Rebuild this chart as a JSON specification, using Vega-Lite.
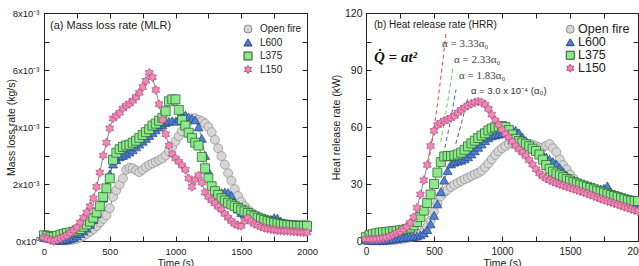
{
  "$schema": "https://vega.github.io/schema/vega-lite/v6.json",
  "background": "white",
  "padding": {"left": 5, "top": 7, "right": 0, "bottom": 0},
  "config": {
    "view": {"stroke": "#222", "strokeWidth": 1},
    "axis": {
      "grid": false, "domain": false,
      "labelFont": "Liberation Sans", "labelFontSize": 9.5, "labelColor": "#222",
      "titleFont": "Liberation Sans", "titleFontSize": 10.5, "titleFontWeight": "normal", "titleColor": "#222",
      "tickColor": "#222", "tickWidth": 1
    },
    "text": {"font": "Liberation Sans"}
  },
  "datasets": {
    "mlr": [
      {"t":0,"Open fire":0.00015,"L600":0.00012,"L375":0.0002,"L150":0.00012},
      {"t":25,"Open fire":0.00012,"L600":0.0001,"L375":0.00018,"L150":0.00008},
      {"t":50,"Open fire":0.0001,"L600":0.00008,"L375":0.00015,"L150":0.00003},
      {"t":75,"Open fire":0.00008,"L600":0.00005,"L375":0.00015,"L150":0},
      {"t":100,"Open fire":0.00005,"L600":0.00002,"L375":0.00018,"L150":0.00005},
      {"t":125,"Open fire":0.00003,"L600":0.00002,"L375":0.00022,"L150":0.0001},
      {"t":150,"Open fire":0.00002,"L600":0.00003,"L375":0.00025,"L150":0.00015},
      {"t":175,"Open fire":0.00002,"L600":0.00005,"L375":0.00028,"L150":0.0002},
      {"t":200,"Open fire":0.00003,"L600":0.00008,"L375":0.0003,"L150":0.00028},
      {"t":225,"Open fire":0.00005,"L600":0.00012,"L375":0.00033,"L150":0.00038},
      {"t":250,"Open fire":0.00008,"L600":0.00018,"L375":0.00037,"L150":0.00048},
      {"t":275,"Open fire":0.00012,"L600":0.00026,"L375":0.00042,"L150":0.00065},
      {"t":300,"Open fire":0.00018,"L600":0.00035,"L375":0.0005,"L150":0.00082},
      {"t":325,"Open fire":0.00025,"L600":0.00045,"L375":0.00058,"L150":0.001},
      {"t":350,"Open fire":0.00033,"L600":0.00058,"L375":0.00068,"L150":0.00122},
      {"t":375,"Open fire":0.00042,"L600":0.00075,"L375":0.00082,"L150":0.0015},
      {"t":400,"Open fire":0.00052,"L600":0.00095,"L375":0.001,"L150":0.0019},
      {"t":425,"Open fire":0.00065,"L600":0.0012,"L375":0.00122,"L150":0.0024},
      {"t":450,"Open fire":0.00078,"L600":0.0015,"L375":0.00155,"L150":0.003},
      {"t":475,"Open fire":0.0009,"L600":0.0019,"L375":0.00185,"L150":0.00345},
      {"t":500,"Open fire":0.00115,"L600":0.00235,"L375":0.0022,"L150":0.00395},
      {"t":525,"Open fire":0.00155,"L600":0.0027,"L375":0.00285,"L150":0.0043},
      {"t":550,"Open fire":0.00178,"L600":0.00285,"L375":0.0031,"L150":0.0044},
      {"t":575,"Open fire":0.00198,"L600":0.00295,"L375":0.00322,"L150":0.0045},
      {"t":600,"Open fire":0.0022,"L600":0.003,"L375":0.0033,"L150":0.00465},
      {"t":625,"Open fire":0.0025,"L600":0.00305,"L375":0.00335,"L150":0.00475},
      {"t":650,"Open fire":0.00257,"L600":0.00312,"L375":0.00338,"L150":0.00482},
      {"t":675,"Open fire":0.00255,"L600":0.0032,"L375":0.00345,"L150":0.00492},
      {"t":700,"Open fire":0.00248,"L600":0.0033,"L375":0.00352,"L150":0.00505},
      {"t":725,"Open fire":0.00242,"L600":0.0034,"L375":0.00362,"L150":0.0052},
      {"t":750,"Open fire":0.0025,"L600":0.0035,"L375":0.00372,"L150":0.0054},
      {"t":775,"Open fire":0.0026,"L600":0.0036,"L375":0.00382,"L150":0.00562},
      {"t":800,"Open fire":0.00267,"L600":0.0037,"L375":0.00392,"L150":0.0059},
      {"t":825,"Open fire":0.00272,"L600":0.0038,"L375":0.00405,"L150":0.00575},
      {"t":850,"Open fire":0.00278,"L600":0.0039,"L375":0.00412,"L150":0.0053},
      {"t":875,"Open fire":0.00284,"L600":0.004,"L375":0.00422,"L150":0.0048},
      {"t":900,"Open fire":0.0029,"L600":0.00408,"L375":0.00432,"L150":0.00425},
      {"t":925,"Open fire":0.003,"L600":0.00415,"L375":0.00455,"L150":0.00375},
      {"t":950,"Open fire":0.00315,"L600":0.0042,"L375":0.0049,"L150":0.00335},
      {"t":975,"Open fire":0.0033,"L600":0.00422,"L375":0.00497,"L150":0.00305},
      {"t":1000,"Open fire":0.0035,"L600":0.0042,"L375":0.00497,"L150":0.0029},
      {"t":1025,"Open fire":0.00368,"L600":0.0043,"L375":0.0046,"L150":0.00278},
      {"t":1050,"Open fire":0.00385,"L600":0.0044,"L375":0.00425,"L150":0.00265},
      {"t":1075,"Open fire":0.00405,"L600":0.00442,"L375":0.00405,"L150":0.0025},
      {"t":1100,"Open fire":0.0042,"L600":0.00435,"L375":0.0038,"L150":0.0022},
      {"t":1125,"Open fire":0.0043,"L600":0.0043,"L375":0.00362,"L150":0.0019},
      {"t":1150,"Open fire":0.0043,"L600":0.00425,"L375":0.00345,"L150":0.00215},
      {"t":1175,"Open fire":0.00425,"L600":0.004,"L375":0.00335,"L150":0.0023},
      {"t":1200,"Open fire":0.0042,"L600":0.0036,"L375":0.00295,"L150":0.00205},
      {"t":1225,"Open fire":0.00412,"L600":0.003,"L375":0.00255,"L150":0.0017},
      {"t":1250,"Open fire":0.004,"L600":0.00245,"L375":0.0022,"L150":0.00155},
      {"t":1275,"Open fire":0.00382,"L600":0.00195,"L375":0.00192,"L150":0.00142},
      {"t":1300,"Open fire":0.00355,"L600":0.00172,"L375":0.00175,"L150":0.00132},
      {"t":1325,"Open fire":0.00325,"L600":0.0017,"L375":0.00162,"L150":0.0012},
      {"t":1350,"Open fire":0.00298,"L600":0.0017,"L375":0.0015,"L150":0.0011},
      {"t":1375,"Open fire":0.00268,"L600":0.00172,"L375":0.00142,"L150":0.00095},
      {"t":1400,"Open fire":0.00238,"L600":0.0017,"L375":0.00134,"L150":0.00082},
      {"t":1425,"Open fire":0.00212,"L600":0.0016,"L375":0.00128,"L150":0.0007},
      {"t":1450,"Open fire":0.00182,"L600":0.00135,"L375":0.00122,"L150":0.0006},
      {"t":1475,"Open fire":0.00158,"L600":0.00112,"L375":0.00116,"L150":0.00055},
      {"t":1500,"Open fire":0.00138,"L600":0.001,"L375":0.0011,"L150":0.00053},
      {"t":1525,"Open fire":0.00122,"L600":0.00095,"L375":0.00104,"L150":0.0007},
      {"t":1550,"Open fire":0.0011,"L600":0.0009,"L375":0.00098,"L150":0.0008},
      {"t":1575,"Open fire":0.001,"L600":0.00085,"L375":0.00092,"L150":0.00068},
      {"t":1600,"Open fire":0.00092,"L600":0.0008,"L375":0.00087,"L150":0.0006},
      {"t":1625,"Open fire":0.00086,"L600":0.00077,"L375":0.00082,"L150":0.00055},
      {"t":1650,"Open fire":0.0008,"L600":0.00074,"L375":0.00078,"L150":0.0005},
      {"t":1675,"Open fire":0.00075,"L600":0.00072,"L375":0.00074,"L150":0.00046},
      {"t":1700,"Open fire":0.00071,"L600":0.00072,"L375":0.0007,"L150":0.00043},
      {"t":1725,"Open fire":0.00067,"L600":0.00076,"L375":0.00067,"L150":0.00041},
      {"t":1750,"Open fire":0.00064,"L600":0.00082,"L375":0.00064,"L150":0.00039},
      {"t":1775,"Open fire":0.00062,"L600":0.0008,"L375":0.00062,"L150":0.00037},
      {"t":1800,"Open fire":0.0006,"L600":0.0007,"L375":0.0006,"L150":0.00036},
      {"t":1825,"Open fire":0.00059,"L600":0.00064,"L375":0.00058,"L150":0.00035},
      {"t":1850,"Open fire":0.00058,"L600":0.0006,"L375":0.00056,"L150":0.00035},
      {"t":1875,"Open fire":0.00058,"L600":0.00057,"L375":0.00055,"L150":0.00034},
      {"t":1900,"Open fire":0.00057,"L600":0.00054,"L375":0.00054,"L150":0.00033},
      {"t":1925,"Open fire":0.00057,"L600":0.00052,"L375":0.00053,"L150":0.00032},
      {"t":1950,"Open fire":0.00057,"L600":0.0005,"L375":0.00053,"L150":0.00031},
      {"t":1975,"Open fire":0.00058,"L600":0.00048,"L375":0.00053,"L150":0.0003},
      {"t":2000,"Open fire":0.00058,"L600":0.00046,"L375":0.00053,"L150":0.0003}
    ],
    "hrr": [
      {"t":0,"Open fire":0.5,"L600":0.5,"L375":2.0,"L150":1.0},
      {"t":25,"Open fire":0.5,"L600":0.4,"L375":3.0,"L150":0.9},
      {"t":50,"Open fire":0.5,"L600":0.3,"L375":3.6,"L150":0.9},
      {"t":75,"Open fire":0.4,"L600":0.2,"L375":4.0,"L150":1.0},
      {"t":100,"Open fire":0.3,"L600":0.2,"L375":4.4,"L150":1.2},
      {"t":125,"Open fire":0.3,"L600":0.3,"L375":4.6,"L150":1.5},
      {"t":150,"Open fire":0.3,"L600":0.5,"L375":4.8,"L150":1.8},
      {"t":175,"Open fire":0.4,"L600":0.8,"L375":5.0,"L150":2.4},
      {"t":200,"Open fire":0.5,"L600":1.0,"L375":5.2,"L150":3.3},
      {"t":225,"Open fire":0.7,"L600":1.2,"L375":5.4,"L150":4.2},
      {"t":250,"Open fire":0.9,"L600":1.5,"L375":5.6,"L150":5.0},
      {"t":275,"Open fire":1.2,"L600":1.8,"L375":5.9,"L150":6.2},
      {"t":300,"Open fire":1.5,"L600":2.0,"L375":6.3,"L150":7.6},
      {"t":325,"Open fire":1.9,"L600":2.2,"L375":7.0,"L150":9.5},
      {"t":350,"Open fire":2.4,"L600":2.4,"L375":8.2,"L150":12.5},
      {"t":375,"Open fire":3.0,"L600":2.6,"L375":10.0,"L150":17.5},
      {"t":400,"Open fire":3.8,"L600":3.2,"L375":12.6,"L150":24.5},
      {"t":425,"Open fire":5.0,"L600":4.2,"L375":16.0,"L150":32.0},
      {"t":450,"Open fire":7.5,"L600":6.0,"L375":20.0,"L150":40.0},
      {"t":475,"Open fire":10.8,"L600":9.0,"L375":24.5,"L150":50.0},
      {"t":500,"Open fire":15.5,"L600":13.5,"L375":30.0,"L150":58.0},
      {"t":525,"Open fire":19.8,"L600":19.5,"L375":36.0,"L150":61.0},
      {"t":550,"Open fire":23.5,"L600":26.0,"L375":41.5,"L150":62.2},
      {"t":575,"Open fire":25.5,"L600":32.0,"L375":44.5,"L150":63.2},
      {"t":600,"Open fire":27.0,"L600":37.0,"L375":44.8,"L150":64.0},
      {"t":625,"Open fire":28.5,"L600":40.5,"L375":44.7,"L150":64.8},
      {"t":650,"Open fire":29.6,"L600":41.5,"L375":45.0,"L150":65.8},
      {"t":675,"Open fire":30.6,"L600":42.0,"L375":45.6,"L150":67.5},
      {"t":700,"Open fire":31.6,"L600":42.5,"L375":46.5,"L150":69.0},
      {"t":725,"Open fire":32.5,"L600":43.2,"L375":48.0,"L150":70.3},
      {"t":750,"Open fire":33.3,"L600":44.3,"L375":49.8,"L150":71.3},
      {"t":775,"Open fire":34.2,"L600":45.8,"L375":51.4,"L150":72.3},
      {"t":800,"Open fire":35.1,"L600":47.5,"L375":52.8,"L150":73.0},
      {"t":825,"Open fire":35.9,"L600":49.3,"L375":54.2,"L150":73.4},
      {"t":850,"Open fire":37.0,"L600":51.0,"L375":55.5,"L150":73.0},
      {"t":875,"Open fire":38.8,"L600":52.8,"L375":56.7,"L150":71.8},
      {"t":900,"Open fire":40.8,"L600":54.3,"L375":58.2,"L150":69.5},
      {"t":925,"Open fire":43.0,"L600":55.3,"L375":59.2,"L150":66.5},
      {"t":950,"Open fire":45.3,"L600":55.8,"L375":59.8,"L150":63.5},
      {"t":975,"Open fire":47.3,"L600":56.2,"L375":60.2,"L150":61.2},
      {"t":1000,"Open fire":48.8,"L600":56.6,"L375":60.5,"L150":58.6},
      {"t":1025,"Open fire":50.0,"L600":57.0,"L375":60.0,"L150":56.3},
      {"t":1050,"Open fire":51.2,"L600":57.8,"L375":58.4,"L150":54.4},
      {"t":1075,"Open fire":51.8,"L600":58.6,"L375":56.0,"L150":52.3},
      {"t":1100,"Open fire":51.9,"L600":58.3,"L375":53.8,"L150":50.0},
      {"t":1125,"Open fire":51.8,"L600":57.0,"L375":52.6,"L150":48.2},
      {"t":1150,"Open fire":51.6,"L600":54.8,"L375":51.8,"L150":46.6},
      {"t":1175,"Open fire":51.3,"L600":52.8,"L375":50.9,"L150":44.8},
      {"t":1200,"Open fire":51.0,"L600":51.0,"L375":49.8,"L150":42.6},
      {"t":1225,"Open fire":50.7,"L600":49.5,"L375":48.6,"L150":40.2},
      {"t":1250,"Open fire":50.0,"L600":48.0,"L375":47.4,"L150":37.8},
      {"t":1275,"Open fire":49.3,"L600":46.8,"L375":45.5,"L150":35.6},
      {"t":1300,"Open fire":49.2,"L600":45.5,"L375":42.8,"L150":34.0},
      {"t":1325,"Open fire":50.2,"L600":44.2,"L375":40.0,"L150":32.9},
      {"t":1350,"Open fire":51.0,"L600":43.0,"L375":38.0,"L150":32.0},
      {"t":1375,"Open fire":48.8,"L600":41.8,"L375":36.5,"L150":31.2},
      {"t":1400,"Open fire":46.8,"L600":40.5,"L375":35.5,"L150":30.5},
      {"t":1425,"Open fire":43.0,"L600":38.5,"L375":34.6,"L150":29.8},
      {"t":1450,"Open fire":40.0,"L600":36.5,"L375":33.6,"L150":29.2},
      {"t":1475,"Open fire":37.8,"L600":34.6,"L375":32.6,"L150":28.6},
      {"t":1500,"Open fire":35.0,"L600":33.0,"L375":31.8,"L150":28.0},
      {"t":1525,"Open fire":32.8,"L600":31.8,"L375":31.0,"L150":27.4},
      {"t":1550,"Open fire":30.8,"L600":30.8,"L375":30.3,"L150":26.8},
      {"t":1575,"Open fire":29.3,"L600":30.0,"L375":29.7,"L150":26.2},
      {"t":1600,"Open fire":28.0,"L600":29.3,"L375":29.1,"L150":25.6},
      {"t":1625,"Open fire":27.0,"L600":28.8,"L375":28.5,"L150":25.0},
      {"t":1650,"Open fire":26.0,"L600":28.4,"L375":27.9,"L150":24.3},
      {"t":1675,"Open fire":25.2,"L600":28.0,"L375":27.2,"L150":23.6},
      {"t":1700,"Open fire":24.4,"L600":27.6,"L375":26.5,"L150":22.9},
      {"t":1725,"Open fire":23.7,"L600":27.4,"L375":26.0,"L150":22.2},
      {"t":1750,"Open fire":23.0,"L600":27.8,"L375":25.4,"L150":21.6},
      {"t":1775,"Open fire":22.3,"L600":29.0,"L375":24.8,"L150":21.0},
      {"t":1800,"Open fire":21.7,"L600":25.8,"L375":24.2,"L150":20.4},
      {"t":1825,"Open fire":21.0,"L600":24.6,"L375":23.7,"L150":19.8},
      {"t":1850,"Open fire":20.4,"L600":23.6,"L375":23.2,"L150":19.2},
      {"t":1875,"Open fire":19.8,"L600":22.8,"L375":22.6,"L150":18.6},
      {"t":1900,"Open fire":19.3,"L600":21.8,"L375":22.0,"L150":18.0},
      {"t":1925,"Open fire":18.8,"L600":20.8,"L375":21.5,"L150":17.4},
      {"t":1950,"Open fire":18.3,"L600":19.9,"L375":21.2,"L150":16.8},
      {"t":1975,"Open fire":17.8,"L600":19.0,"L375":21.0,"L150":16.2},
      {"t":2000,"Open fire":17.4,"L600":18.5,"L375":21.0,"L150":15.7}
    ],
    "fits": [
      {"curve":"a333","t":460,"q":41.2},{"curve":"a333","t":500,"q":59.0},{"curve":"a333","t":530,"q":74.5},{"curve":"a333","t":560,"q":91.8},{"curve":"a333","t":588,"q":109.6},
      {"curve":"a233","t":550,"q":52.1},{"curve":"a233","t":580,"q":64.2},{"curve":"a233","t":610,"q":77.5},{"curve":"a233","t":637,"q":90.6},
      {"curve":"a183","t":580,"q":49.1},{"curve":"a183","t":610,"q":59.4},{"curve":"a183","t":640,"q":70.8},{"curve":"a183","t":662,"q":79.7},
      {"curve":"a0","t":660,"q":51.2},{"curve":"a0","t":690,"q":58.9},{"curve":"a0","t":720,"q":67.1},{"curve":"a0","t":750,"q":75.9}
    ],
    "notesA": [
      {"t":46,"v":0.00754,"label":"(a) Mass loss rate (MLR)"}
    ],
    "notesB": [
      {"t":59,"q":113.7,"label":"(b) Heat release rate (HRR)"}
    ],
    "formula": [
      {"t":59,"q":97,"label":"Q\u0307 = at\u00b2"}
    ],
    "alphas": [
      {"t":559,"q":103.7,"label":"\u03b1 = 3.33\u03b1\u2080"},
      {"t":647,"q":95.3,"label":"\u03b1 = 2.33\u03b1\u2080"},
      {"t":684,"q":86.8,"label":"\u03b1 = 1.83\u03b1\u2080"}
    ],
    "alpha0": [
      {"t":772,"q":79,"label":"\u03b1 = 3.0 x 10\u207b\u2074 (\u03b1\u2080)"}
    ]
  },
  "hconcat": [
    {
      "width": 263,
      "height": 228,
      "layer": [
        {
          "data": {"name": "mlr"},
          "transform": [{"fold": ["Open fire", "L600", "L375", "L150"], "as": ["series", "v"]}],
          "mark": {"type": "line", "strokeWidth": 0.7},
          "encoding": {
            "x": {"field": "t", "type": "quantitative", "scale": {"domain": [0, 2000], "nice": false},
              "axis": {"values": [0, 500, 1000, 1500, 2000], "format": "d", "title": "Time (s)", "ticks": false, "tickSize": 0, "labelPadding": 5, "labelFlush": false, "titleY": 25, "titleBaseline": "alphabetic", "titleFontSize": 10}},
            "y": {"field": "v", "type": "quantitative", "scale": {"domain": [0, 0.008], "nice": false},
              "axis": {"values": [0, 0.002, 0.004, 0.006, 0.008], "labelExpr": "datum.value === 0 ? '0x10\u2070' : round(datum.value * 1000) + 'x10\u207b\u00b3'", "title": "Mass loss rate (kg/s)", "ticks": false, "tickSize": 0, "labelPadding": 5, "titleX": -33, "titleBaseline": "middle"}},
            "detail": {"field": "series", "type": "nominal"},
            "stroke": {"value": "#555"}
          }
        },
        {
          "data": {"name": "mlr"},
          "transform": [{"fold": ["Open fire", "L600", "L375", "L150"], "as": ["series", "v"]}],
          "mark": {"type": "point", "filled": true, "opacity": 1, "size": 81, "strokeWidth": 0.7},
          "encoding": {
            "x": {"field": "t", "type": "quantitative", "scale": {"domain": [0, 2000], "nice": false},
              "axis": {"orient": "top", "offset": -228, "values": [0, 250, 500, 750, 1000, 1250, 1500, 1750, 2000], "labels": false, "tickSize": 5, "title": null}},
            "y": {"field": "v", "type": "quantitative", "scale": {"domain": [0, 0.008], "nice": false},
              "axis": {"orient": "right", "offset": -263, "values": [0, 0.001, 0.002, 0.003, 0.004, 0.005, 0.006, 0.007, 0.008], "labels": false, "tickSize": 5, "title": null}},
            "fill": {"field": "series", "type": "nominal",
              "scale": {"domain": ["Open fire", "L600", "L375", "L150"], "range": ["#d6d6d6", "#4f80d8", "#8ce98a", "#ef8ab6"]},
              "legend": {"title": null, "orient": "none", "legendX": 199, "legendY": 11, "padding": 0, "symbolSize": 64, "symbolStrokeWidth": 1, "labelFont": "Liberation Sans", "labelFontSize": 10, "labelColor": "#222", "labelOffset": 7, "rowPadding": 1.5}},
            "stroke": {"field": "series", "type": "nominal",
              "scale": {"domain": ["Open fire", "L600", "L375", "L150"], "range": ["#8c8c8c", "#22407a", "#24562a", "#b24c80"]},
              "legend": {"title": null, "orient": "none", "legendX": 199, "legendY": 11, "padding": 0, "symbolSize": 64, "symbolStrokeWidth": 1, "labelFont": "Liberation Sans", "labelFontSize": 10, "labelColor": "#222", "labelOffset": 7, "rowPadding": 1.5}},
            "shape": {"field": "series", "type": "nominal",
              "scale": {"domain": ["Open fire", "L600", "L375", "L150"], "range": ["circle", "triangle-up", "square", "M0,-1L0.3,-0.52L0.87,-0.5L0.6,0L0.87,0.5L0.3,0.52L0,1L-0.3,0.52L-0.87,0.5L-0.6,0L-0.87,-0.5L-0.3,-0.52Z"]},
              "legend": {"title": null, "orient": "none", "legendX": 199, "legendY": 11, "padding": 0, "symbolSize": 64, "symbolStrokeWidth": 1, "labelFont": "Liberation Sans", "labelFontSize": 10, "labelColor": "#222", "labelOffset": 7, "rowPadding": 1.5}},
            "order": {"field": "series", "sort": "descending"}
          }
        },
        {
          "data": {"name": "notesA"},
          "mark": {"type": "text", "align": "left", "baseline": "middle", "fontSize": 11, "color": "#222"},
          "encoding": {
            "x": {"field": "t", "type": "quantitative", "scale": {"domain": [0, 2000], "nice": false},
              "axis": {"orient": "bottom", "offset": -228, "values": [0, 250, 500, 750, 1000, 1250, 1500, 1750, 2000], "labels": false, "tickSize": 5, "title": null}},
            "y": {"field": "v", "type": "quantitative", "scale": {"domain": [0, 0.008], "nice": false},
              "axis": {"orient": "left", "offset": -263, "values": [0, 0.001, 0.002, 0.003, 0.004, 0.005, 0.006, 0.007, 0.008], "labels": false, "tickSize": 5, "title": null}},
            "text": {"field": "label"}
          }
        }
      ],
      "resolve": {"axis": {"x": "independent", "y": "independent"}}
    },
    {
      "width": 272,
      "height": 228,
      "layer": [
        {
          "data": {"name": "hrr"},
          "transform": [{"fold": ["Open fire", "L600", "L375", "L150"], "as": ["series", "q"]}],
          "mark": {"type": "line", "strokeWidth": 0.7},
          "encoding": {
            "x": {"field": "t", "type": "quantitative", "scale": {"domain": [0, 2000], "nice": false},
              "axis": {"values": [0, 500, 1000, 1500, 2000], "format": "d", "title": "Time (s)", "ticks": false, "tickSize": 0, "labelPadding": 5, "labelFlush": false, "titleY": 25, "titleBaseline": "alphabetic", "titleFontSize": 10.5, "labelFontSize": 10}},
            "y": {"field": "q", "type": "quantitative", "scale": {"domain": [0, 120], "nice": false},
              "axis": {"values": [0, 30, 60, 90, 120], "title": "Heat release rate (kW)", "ticks": false, "tickSize": 0, "labelPadding": 4, "titleX": -30, "titleBaseline": "middle", "labelFontSize": 10.5}},
            "detail": {"field": "series", "type": "nominal"},
            "stroke": {"value": "#555"}
          }
        },
        {
          "data": {"name": "fits"},
          "transform": [{"filter": "datum.curve === 'a333'"}],
          "mark": {"type": "line", "strokeWidth": 1, "strokeDash": [4, 3], "color": "#e8473f"},
          "encoding": {
            "x": {"field": "t", "type": "quantitative", "scale": {"domain": [0, 2000], "nice": false}, "axis": null},
            "y": {"field": "q", "type": "quantitative", "scale": {"domain": [0, 120], "nice": false}, "axis": null}
          }
        },
        {
          "data": {"name": "fits"},
          "transform": [{"filter": "datum.curve === 'a233'"}],
          "mark": {"type": "line", "strokeWidth": 1, "strokeDash": [4, 3], "color": "#5fcf5a"},
          "encoding": {
            "x": {"field": "t", "type": "quantitative", "scale": {"domain": [0, 2000], "nice": false}, "axis": null},
            "y": {"field": "q", "type": "quantitative", "scale": {"domain": [0, 120], "nice": false}, "axis": null}
          }
        },
        {
          "data": {"name": "fits"},
          "transform": [{"filter": "datum.curve === 'a183'"}],
          "mark": {"type": "line", "strokeWidth": 1, "strokeDash": [4, 3], "color": "#3d5ee0"},
          "encoding": {
            "x": {"field": "t", "type": "quantitative", "scale": {"domain": [0, 2000], "nice": false}, "axis": null},
            "y": {"field": "q", "type": "quantitative", "scale": {"domain": [0, 120], "nice": false}, "axis": null}
          }
        },
        {
          "data": {"name": "fits"},
          "transform": [{"filter": "datum.curve === 'a0'"}],
          "mark": {"type": "line", "strokeWidth": 1, "strokeDash": [4, 3], "color": "#555555"},
          "encoding": {
            "x": {"field": "t", "type": "quantitative", "scale": {"domain": [0, 2000], "nice": false}, "axis": null},
            "y": {"field": "q", "type": "quantitative", "scale": {"domain": [0, 120], "nice": false}, "axis": null}
          }
        },
        {
          "data": {"name": "hrr"},
          "transform": [{"fold": ["Open fire", "L600", "L375", "L150"], "as": ["series", "q"]}],
          "mark": {"type": "point", "filled": true, "opacity": 1, "size": 81, "strokeWidth": 0.7},
          "encoding": {
            "x": {"field": "t", "type": "quantitative", "scale": {"domain": [0, 2000], "nice": false},
              "axis": {"orient": "top", "offset": -228, "values": [0, 250, 500, 750, 1000, 1250, 1500, 1750, 2000], "labels": false, "tickSize": 5, "title": null}},
            "y": {"field": "q", "type": "quantitative", "scale": {"domain": [0, 120], "nice": false},
              "axis": {"orient": "right", "offset": -272, "values": [0, 15, 30, 45, 60, 75, 90, 105, 120], "labels": false, "tickSize": 5, "title": null}},
            "fill": {"field": "series", "type": "nominal",
              "scale": {"domain": ["Open fire", "L600", "L375", "L150"], "range": ["#d6d6d6", "#4f80d8", "#8ce98a", "#ef8ab6"]},
              "legend": {"title": null, "orient": "none", "legendX": 198, "legendY": 10, "padding": 0, "symbolSize": 64, "symbolStrokeWidth": 1, "labelFont": "Liberation Sans", "labelFontSize": 12.5, "labelColor": "#222", "labelOffset": 1.5, "rowPadding": -1.5}},
            "stroke": {"field": "series", "type": "nominal",
              "scale": {"domain": ["Open fire", "L600", "L375", "L150"], "range": ["#8c8c8c", "#22407a", "#24562a", "#b24c80"]},
              "legend": {"title": null, "orient": "none", "legendX": 198, "legendY": 10, "padding": 0, "symbolSize": 64, "symbolStrokeWidth": 1, "labelFont": "Liberation Sans", "labelFontSize": 12.5, "labelColor": "#222", "labelOffset": 1.5, "rowPadding": -1.5}},
            "shape": {"field": "series", "type": "nominal",
              "scale": {"domain": ["Open fire", "L600", "L375", "L150"], "range": ["circle", "triangle-up", "square", "M0,-1L0.3,-0.52L0.87,-0.5L0.6,0L0.87,0.5L0.3,0.52L0,1L-0.3,0.52L-0.87,0.5L-0.6,0L-0.87,-0.5L-0.3,-0.52Z"]},
              "legend": {"title": null, "orient": "none", "legendX": 198, "legendY": 10, "padding": 0, "symbolSize": 64, "symbolStrokeWidth": 1, "labelFont": "Liberation Sans", "labelFontSize": 12.5, "labelColor": "#222", "labelOffset": 1.5, "rowPadding": -1.5}},
            "order": {"field": "series", "sort": "descending"}
          }
        },
        {
          "data": {"name": "notesB"},
          "mark": {"type": "text", "align": "left", "baseline": "middle", "fontSize": 10, "color": "#222"},
          "encoding": {
            "x": {"field": "t", "type": "quantitative", "scale": {"domain": [0, 2000], "nice": false},
              "axis": {"orient": "bottom", "offset": -228, "values": [0, 250, 500, 750, 1000, 1250, 1500, 1750, 2000], "labels": false, "tickSize": 5, "title": null}},
            "y": {"field": "q", "type": "quantitative", "scale": {"domain": [0, 120], "nice": false},
              "axis": {"orient": "left", "offset": -272, "values": [0, 15, 30, 45, 60, 75, 90, 105, 120], "labels": false, "tickSize": 5, "title": null}},
            "text": {"field": "label"}
          }
        },
        {
          "data": {"name": "formula"},
          "mark": {"type": "text", "align": "left", "baseline": "middle", "font": "Liberation Serif", "fontSize": 15, "fontWeight": "bold", "fontStyle": "italic", "color": "#111"},
          "encoding": {
            "x": {"field": "t", "type": "quantitative", "scale": {"domain": [0, 2000], "nice": false}, "axis": null},
            "y": {"field": "q", "type": "quantitative", "scale": {"domain": [0, 120], "nice": false}, "axis": null},
            "text": {"field": "label"}
          }
        },
        {
          "data": {"name": "alphas"},
          "mark": {"type": "text", "align": "left", "baseline": "middle", "font": "Liberation Serif", "fontSize": 11, "color": "#444"},
          "encoding": {
            "x": {"field": "t", "type": "quantitative", "scale": {"domain": [0, 2000], "nice": false}, "axis": null},
            "y": {"field": "q", "type": "quantitative", "scale": {"domain": [0, 120], "nice": false}, "axis": null},
            "text": {"field": "label"}
          }
        },
        {
          "data": {"name": "alpha0"},
          "mark": {"type": "text", "align": "left", "baseline": "middle", "fontSize": 9.5, "color": "#333"},
          "encoding": {
            "x": {"field": "t", "type": "quantitative", "scale": {"domain": [0, 2000], "nice": false}, "axis": null},
            "y": {"field": "q", "type": "quantitative", "scale": {"domain": [0, 120], "nice": false}, "axis": null},
            "text": {"field": "label"}
          }
        }
      ],
      "resolve": {"axis": {"x": "independent", "y": "independent"}}
    }
  ],
  "spacing": 59,
  "bounds": "flush",
  "resolve": {"scale": {"fill": "independent", "stroke": "independent", "shape": "independent"}}
}
